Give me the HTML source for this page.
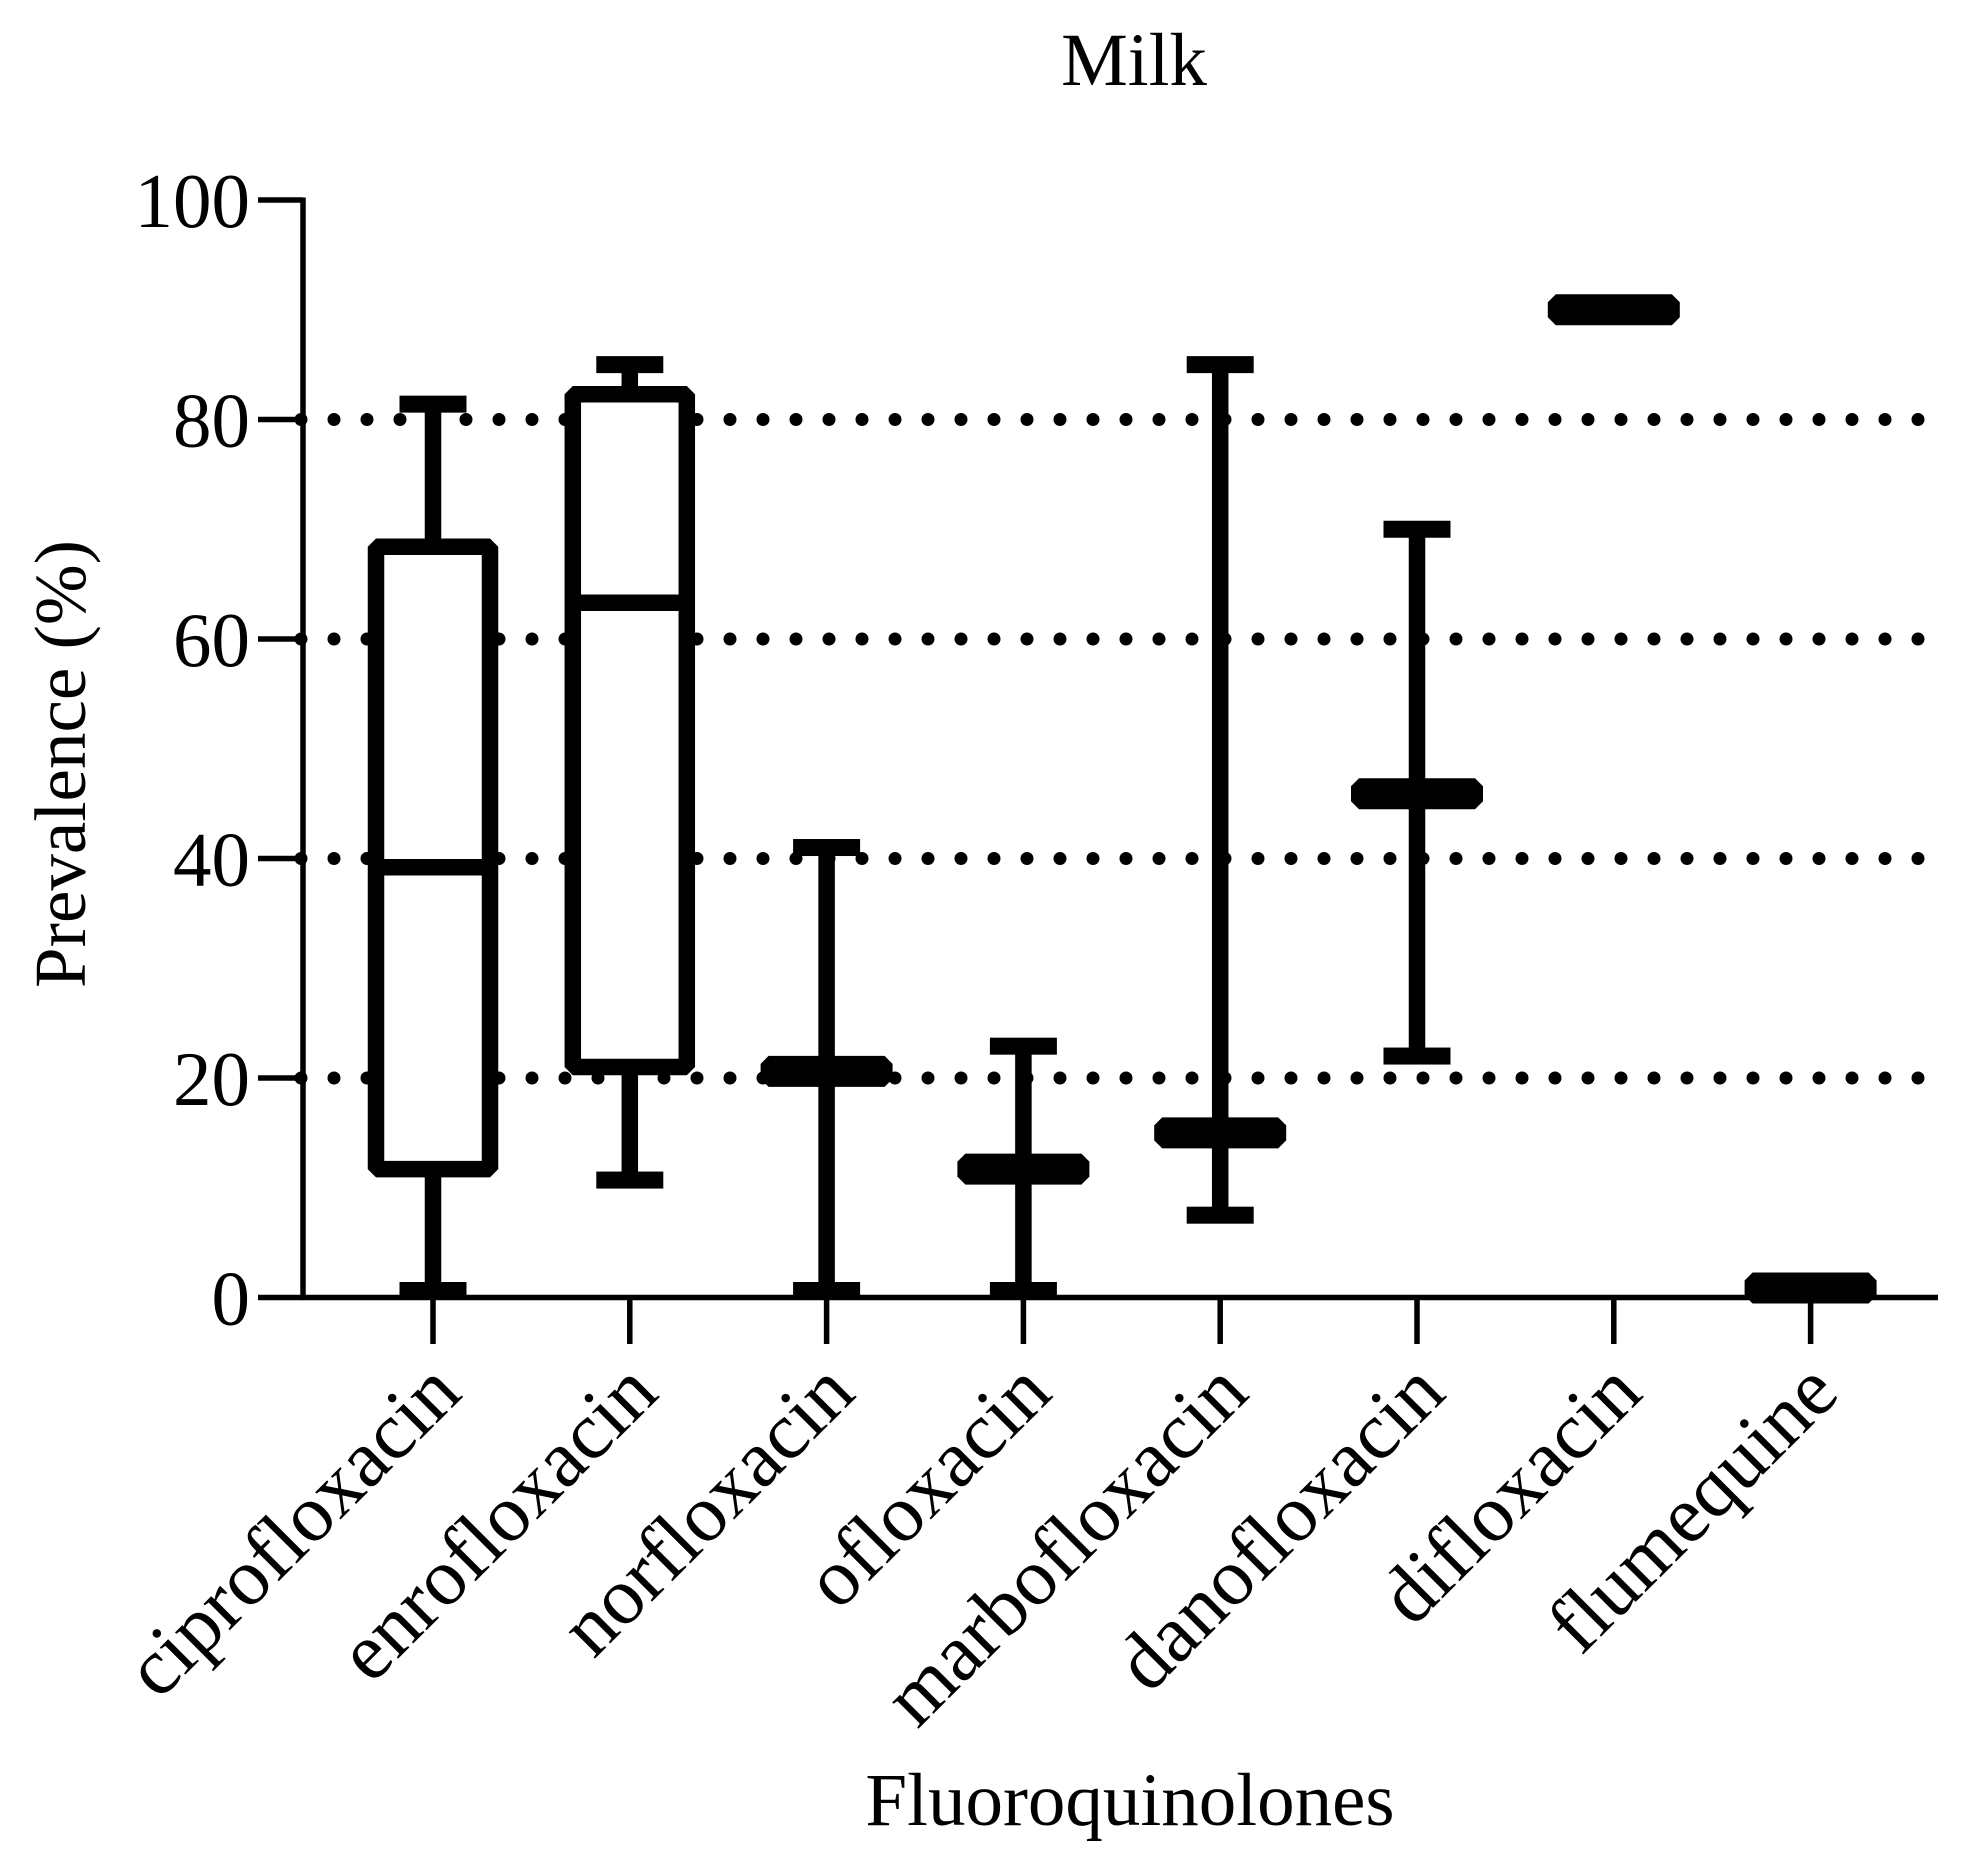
<!DOCTYPE html>
<html><head><meta charset="utf-8"><style>
html,body{margin:0;padding:0;background:#fff;}
svg{display:block;}
text{font-family:"Liberation Serif",serif;fill:#000;}
</style></head><body>
<svg id="chart" width="1971" height="1849" viewBox="0 0 1971 1849" xmlns="http://www.w3.org/2000/svg">
<text x="1134" y="85" font-size="75" text-anchor="middle">Milk</text>
<g id="grid"></g>
<g id="marks"></g>
<g id="axes"></g>
<text transform="translate(85,764) rotate(-90)" font-size="73" text-anchor="middle">Prevalence (%)</text>
<text x="1130" y="1825" font-size="75" text-anchor="middle">Fluoroquinolones</text>
</svg>
<script>
const categories = ["ciprofloxacin","enrofloxacin","norfloxacin","ofloxacin","marbofloxacin","danofloxacin","difloxacin","flumequine"];
const minVals = [0.6, 10.7, 0.6, 0.6, 7.5, 22, 90, 0.6];
const q1Vals = [11.7, 21, null, null, null, null, null, null];
const medianVals = [39.2, 63.3, 20.6, 11.7, 15, 45.9, 90, 0.6];
const q3Vals = [68.4, 82.3, null, null, null, null, null, null];
const maxVals = [81.4, 85, 41, 22.9, 85, 70, 90, 0.6];
const yTicks = [0, 20, 40, 60, 80, 100];
const gridVals = [20, 40, 60, 80];

const NS = "http://www.w3.org/2000/svg";
const X0 = 303, XEND = 1938;
function yScale(v){ return 1297.5 - 10.975 * v; }
function xScale(i){ return 433 + 196.8 * i; }
function mk(tag, attrs, parent){
  const e = document.createElementNS(NS, tag);
  for (const k in attrs) e.setAttribute(k, attrs[k]);
  parent.appendChild(e);
  return e;
}
const grid = document.getElementById('grid');
const marks = document.getElementById('marks');
const axes = document.getElementById('axes');

gridVals.forEach(v => {
  const l = mk('line', {x1: 301, x2: 1935, y1: yScale(v), y2: yScale(v), stroke: '#000', 'stroke-width': 13, 'stroke-linecap': 'round', 'stroke-dasharray': '0 33'}, grid);
  
  
});

function bar(cx, cy, w, h, name){
  const c = 8, x1 = cx - w/2, x2 = cx + w/2, y1 = cy - h/2, y2 = cy + h/2;
  const p = mk('polygon', {points: `${x1+c},${y1} ${x2-c},${y1} ${x2},${y1+c} ${x2},${y2-c} ${x2-c},${y2} ${x1+c},${y2} ${x1},${y2-c} ${x1},${y1+c}`, fill: '#000'}, marks);
  
  
}

categories.forEach((cat, i) => {
  const cx = xScale(i);
  const g = mk('g', {}, marks);
  
  
  const yMin = yScale(minVals[i]), yMax = yScale(maxVals[i]);
  if (maxVals[i] !== minVals[i]) {
    const w = mk('line', {x1: cx, x2: cx, y1: yMax, y2: Math.min(yMin, 1296), stroke: '#000', 'stroke-width': 16.5}, g);
    
    
    const capT = mk('rect', {x: cx - 33.5, y: yMax - 8.5, width: 67, height: 17, fill: '#000'}, g);
    
    
    const by = Math.min(yMin - 8.5, 1296 - 14);
    const capB = mk('rect', {x: cx - 33.5, y: by, width: 67, height: 17, fill: '#000'}, g);
    
    
  }
  if (q1Vals[i] !== null) {
    const yq1 = yScale(q1Vals[i]), yq3 = yScale(q3Vals[i]);
    const r = mk('rect', {x: cx - 57, y: yq3, width: 114, height: yq1 - yq3, fill: '#fff', stroke: '#000', 'stroke-width': 16.5, 'stroke-linejoin': 'bevel'}, g);
    
    
    const m = mk('line', {x1: cx - 57, x2: cx + 57, y1: yScale(medianVals[i]), y2: yScale(medianVals[i]), stroke: '#000', 'stroke-width': 16.5}, g);
    
    
  } else {
    let cy = yScale(medianVals[i]);
    if (cy > 1296 - 15) cy = 1296 - 8;
    bar(cx, cy, 132, 31, 'median-' + cat);
  }
});

const ya = mk('line', {x1: X0, x2: X0, y1: 197.5, y2: 1300, stroke: '#000', 'stroke-width': 5.5}, axes);


const xa = mk('line', {x1: X0 - 2, x2: XEND, y1: 1297.5, y2: 1297.5, stroke: '#000', 'stroke-width': 5.5}, axes);


yTicks.forEach(v => {
  const t = mk('line', {x1: 258, x2: X0, y1: yScale(v), y2: yScale(v), stroke: '#000', 'stroke-width': 5.5}, axes);
  
  
  const tx = mk('text', {x: 250, y: yScale(v) + 27, 'font-size': 77, 'text-anchor': 'end'}, axes);
  tx.textContent = v;
  
  
});
categories.forEach((cat, i) => {
  const cx = xScale(i);
  const t = mk('line', {x1: cx, x2: cx, y1: 1297.5, y2: 1344, stroke: '#000', 'stroke-width': 5.5}, axes);
  
  
  const tx = mk('text', {transform: `translate(${cx + 31},${1396}) rotate(-45)`, 'font-size': 81, 'text-anchor': 'end'}, axes);
  tx.textContent = cat;
  
  
});
</script>
</body></html>
